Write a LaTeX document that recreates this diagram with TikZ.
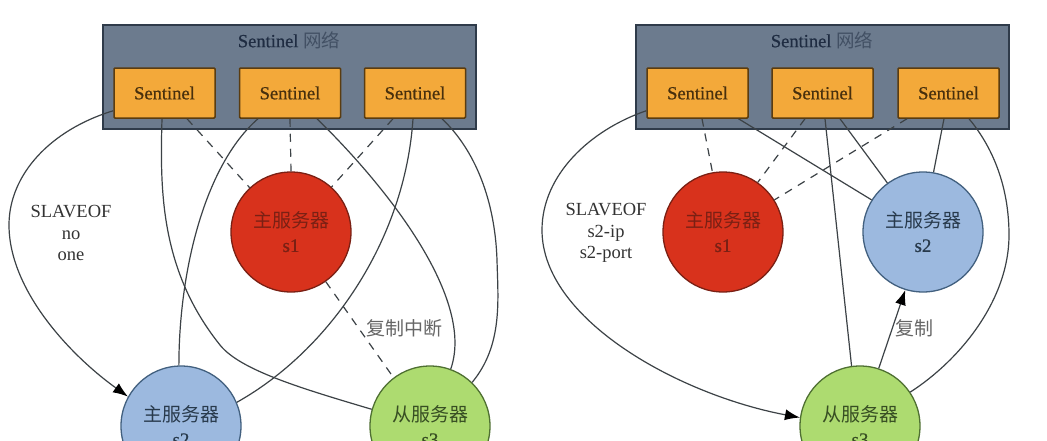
\documentclass[tikz,border=0pt]{standalone}
\usepackage{fontspec}
\setmainfont{Liberation Serif}
\newfontfamily\cjk{Noto Sans CJK SC}
\newfontfamily\heavyserif[FakeBold=0.7]{Liberation Serif}
\usetikzlibrary{arrows.meta}
\definecolor{clusterfill}{HTML}{6C7B8E}
\definecolor{clusterline}{HTML}{2F3B4A}
\definecolor{titletext}{HTML}{1F2C42}
\definecolor{boxfill}{HTML}{F3A93A}
\definecolor{boxline}{HTML}{5A3C10}
\definecolor{redfill}{HTML}{D8321C}
\definecolor{redline}{HTML}{7A2014}
\definecolor{bluefill}{HTML}{9CB9DF}
\definecolor{blueline}{HTML}{42607F}
\definecolor{greenfill}{HTML}{ADDB70}
\definecolor{greenline}{HTML}{4F7032}
\definecolor{wire}{HTML}{3C4246}
\tikzset{
  x=1pt,y=-1pt,
  cluster/.style={draw=clusterline,fill=clusterfill,line width=1.2pt,minimum width=373pt,minimum height=104pt,inner sep=0pt},
  clustertitle/.style={text=titletext,font=\heavyserif\fontsize{18.5}{20}\selectfont,inner sep=0pt},
  sentbox/.style={draw=boxline,fill=boxfill,line width=1.5pt,rounded corners=1pt,minimum width=101pt,minimum height=50pt,inner sep=0pt,text=boxline!80!black,font=\heavyserif\fontsize{18.5}{20}\selectfont},
  server/.style={circle,minimum size=120pt,inner sep=0pt,line width=1.3pt,align=center,font=\heavyserif\fontsize{19}{24}\selectfont},
  srvred/.style={server,draw=redline,fill=redfill,text=redline},
  srvblue/.style={server,draw=blueline,fill=bluefill,text=blueline!60!black},
  srvgreen/.style={server,draw=greenline,fill=greenfill,text=greenline!70!black},
  conn/.style={draw=wire,line width=1.2pt},
  dashconn/.style={conn,dash pattern=on 8pt off 7pt},
  arrowconn/.style={conn,-{Latex[length=15pt,width=11pt,black]}},
  lbl/.style={text=black!80,font=\fontsize{18.5}{21.5}\selectfont,inner sep=0pt,align=center},
  cjklbl/.style={text=black!60,font=\cjk\fontsize{19}{22}\selectfont,inner sep=0pt},
}
\begin{document}
\begin{tikzpicture}
\path[use as bounding box] (0,0) rectangle (1047,440);
\clip (0,0) rectangle (1047,440);
\fill[white] (0,0) rectangle (1047,440);

% ---------- left ----------
\node[cluster] (cl) at (289.5,77) {};
\node[clustertitle] (clt) at (289,40) {Sentinel {\cjk\color{titletext!55!clusterfill}网络}};
\node[sentbox] (la) at (164.5,93) {Sentinel};
\node[sentbox] (lb) at (290,93) {Sentinel};
\node[sentbox] (lc) at (415,93) {Sentinel};
\node[srvred] (ls1) at (291,232) {{\cjk 主服务器}\\s1};
\node[srvblue] (ls2) at (181,426) {{\cjk 主服务器}\\s2};
\node[srvgreen] (ls3) at (430,426) {{\cjk 从服务器}\\s3};

\draw[arrowconn] ([yshift=8pt]la.south west) .. controls (50,130) and (9,175) .. (9,225) .. controls (9,290) and (70,355) .. (ls2.151);
\draw[conn] ([xshift=-2.5pt]la.south) .. controls (160,190) and (160,270) .. (220,345) .. controls (240,370) and (300,388) .. (ls3.164);
\draw[conn] ([xshift=-32pt]lb.south) .. controls (205,165) and (179,270) .. (ls2.92);
\draw[conn] ([xshift=27pt]lb.south) .. controls (390,190) and (475,300) .. (ls3.70);
\draw[conn] ([xshift=-2pt]lc.south) .. controls (405,240) and (330,350) .. (ls2.23);
\draw[conn] ([xshift=27pt]lc.south) .. controls (475,150) and (495,200) .. (497,260) .. controls (498,300) and (503,345) .. (ls3.46);
\draw[dashconn] ([xshift=22.5pt]la.south) -- (ls1.133);
\draw[dashconn] (lb.south) -- (ls1.90);
\draw[dashconn] ([xshift=-22pt]lc.south) -- (ls1.48);
\draw[dashconn] (ls1.-55.5) -- (ls3.127);

\node[lbl] (lslave) at (71,233) {SLAVEOF\\no\\one};
\node[cjklbl] (lcut) at (404,328) {复制中断};

% ---------- right ----------
\node[cluster] (cr) at (822.5,77) {};
\node[clustertitle] (crt) at (822,40) {Sentinel {\cjk\color{titletext!55!clusterfill}网络}};
\node[sentbox] (ra) at (697.5,93) {Sentinel};
\node[sentbox] (rb) at (822.5,93) {Sentinel};
\node[sentbox] (rc) at (948.5,93) {Sentinel};
\node[srvred] (rs1) at (723,232) {{\cjk 主服务器}\\s1};
\node[srvblue] (rs2) at (923,232) {{\cjk 主服务器}\\s2};
\node[srvgreen] (rs3) at (860,426) {{\cjk 从服务器}\\s3};

\draw[arrowconn] ([yshift=8pt]ra.south west) .. controls (590,130) and (542,175) .. (542,230) .. controls (542,320) and (680,395) .. (rs3.172);
\draw[conn] ([xshift=41pt]ra.south) -- (rs2.148);
\draw[conn] ([xshift=2.5pt]rb.south) -- (rs3.98);
\draw[conn] ([xshift=17.5pt]rb.south) -- (rs2.126);
\draw[conn] ([xshift=-4.5pt]rc.south) -- (rs2.80);
\draw[conn] ([xshift=20.5pt]rc.south) .. controls (995,150) and (1009,190) .. (1009,235) .. controls (1009,300) and (960,360) .. (rs3.34);
\draw[dashconn] ([xshift=4.5pt]ra.south) -- (rs1.100);
\draw[dashconn] ([xshift=-17.5pt]rb.south) -- (rs1.55);
\draw[dashconn] ([xshift=-41.5pt]rc.south) -- (rs1.32);
\draw[arrowconn] (rs3.72) -- (rs2.-107.5);

\node[lbl] (rslave) at (606,233) {SLAVEOF\\s2-ip\\s2-port};
\node[cjklbl] (rcopy) at (914,328) {复制};
\end{tikzpicture}
\end{document}
